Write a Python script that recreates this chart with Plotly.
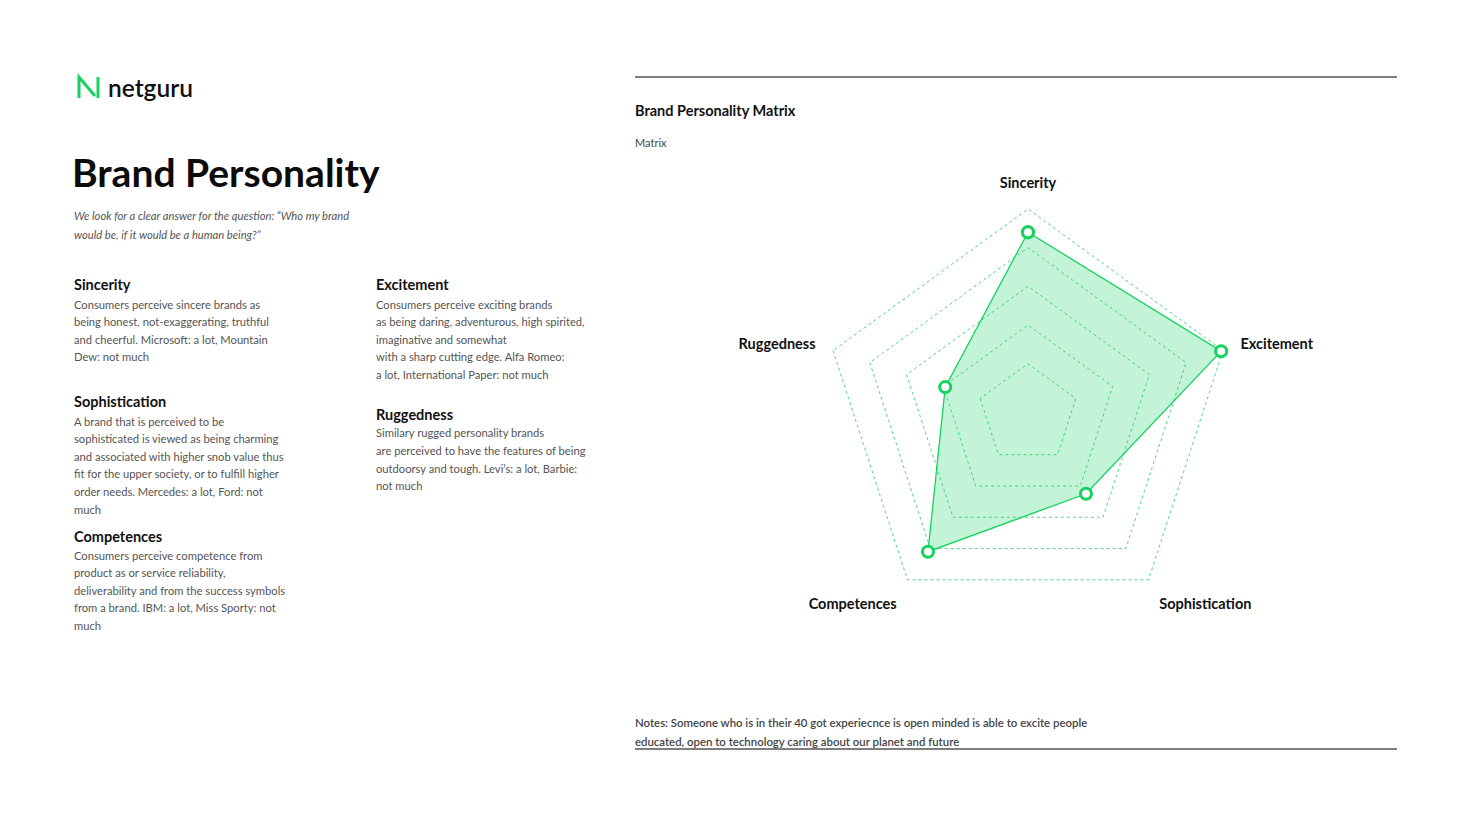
import plotly.graph_objects as go

W, H = 1470, 827
OFF = 8  # default page margin around the plot div
FW, FH = W - 2 * OFF, H - 2 * OFF
GREEN = "#14D35E"

# radar data
categories = ["Sincerity", "Excitement", "Sophistication", "Competences", "Ruggedness"]
scores = [4.4, 4.95, 2.25, 4.1, 1.95]
grid_levels = [1, 2, 3, 4, 5]

# page text
title = "Brand Personality"
subtitle_lines = [
    "We look for a clear answer for the question: \u201cWho my brand",
    "would be, if it would be a human being?\u201d",
]
sections = {
    "Sincerity": [
        "Consumers perceive sincere brands as",
        "being honest, not-exaggerating, truthful",
        "and cheerful. Microsoft: a lot, Mountain",
        "Dew: not much",
    ],
    "Sophistication": [
        "A brand that is perceived to be",
        "sophisticated is viewed as being charming",
        "and associated with higher snob value thus",
        "fit for the upper society, or to fulfill higher",
        "order needs. Mercedes: a lot, Ford: not",
        "much",
    ],
    "Competences": [
        "Consumers perceive competence from",
        "product as or service reliability,",
        "deliverability and from the success symbols",
        "from a brand. IBM: a lot, Miss Sporty: not",
        "much",
    ],
    "Excitement": [
        "Consumers perceive exciting brands",
        "as being daring, adventurous, high spirited,",
        "imaginative and somewhat",
        "with a sharp cutting edge. Alfa Romeo:",
        "a lot, International Paper: not much",
    ],
    "Ruggedness": [
        "Similary rugged personality brands",
        "are perceived to have the features of being",
        "outdoorsy and tough. Levi\u2019s: a lot, Barbie:",
        "not much",
    ],
}
# (x, y of heading) in page pixels
section_pos = {
    "Sincerity": (74, 285),
    "Sophistication": (74, 402),
    "Competences": (74, 536),
    "Excitement": (376, 285),
    "Ruggedness": (376, 414),
}
notes_lines = [
    "Notes: Someone who is in their 40 got experiecnce is open minded is able to excite people",
    "educated, open to technology caring about our planet and future",
]


def px(x):
    return (x - OFF) / FW


def py(y):
    return 1 - (y - OFF) / FH


FONT = "Lato"
annotations = []


def text(x, y, s, size, color="#111", weight=400, style="normal"):
    annotations.append(dict(
        x=px(x), y=py(y), xref="paper", yref="paper",
        xanchor="left", yanchor="middle", showarrow=False, text=s,
        borderpad=0, borderwidth=0,
        font=dict(family=FONT, size=size, color=color, weight=weight, style=style),
    ))


text(108, 87, "netguru", 24.5, "#111", 600)
text(72, 172, title, 39, "#0b0b0b", 700)
for i, line in enumerate(subtitle_lines):
    text(74, 215 + i * 19, line, 11.2, "#555", 400, "italic")
for name, lines in sections.items():
    x0, y0 = section_pos[name]
    text(x0, y0, name, 14.5, "#111", 700)
    for i, line in enumerate(lines):
        text(x0, y0 + 19 + i * 17.6, line, 11.2, "#555")
text(635, 110, "Brand Personality Matrix", 14.5, "#111", 700)
text(635, 142, "Matrix", 11, "#444")
for i, line in enumerate(notes_lines):
    text(635, 722 + i * 19.5, line, 11.4, "#444", 600)

shapes = [
    dict(type="line", xref="paper", yref="paper", x0=px(635), x1=px(1397),
         y0=py(77), y1=py(77), line=dict(color="#555", width=1.5)),
    dict(type="line", xref="paper", yref="paper", x0=px(635), x1=px(1397),
         y0=py(749), y1=py(749), line=dict(color="#555", width=1.5)),
    # logo mark
    dict(type="path", xref="paper", yref="paper",
         path=f"M {px(79)},{py(98)} L {px(79)},{py(77)} L {px(95)},{py(96)} "
              f"M {px(98)},{py(77)} L {px(98)},{py(98)}",
         line=dict(color=GREEN, width=3)),
]

fig = go.Figure()
fig.add_trace(go.Scatterpolar(
    r=scores + scores[:1],
    theta=categories + categories[:1],
    mode="lines+markers",
    fill="toself",
    fillcolor="rgba(20,211,94,0.25)",
    line=dict(color=GREEN, width=1.3),
    marker=dict(size=11, color="white", line=dict(color=GREEN, width=3)),
    hoverinfo="r+theta",
    showlegend=False,
))

r_min, r_max = -0.3, 5.05
unit = 205 / (5 - r_min)
cx, cy, R = 1028, 414, unit * (r_max - r_min)
fig.update_layout(
    width=FW, height=FH,
    margin=dict(l=0, r=0, t=0, b=0),
    paper_bgcolor="white",
    plot_bgcolor="white",
    annotations=annotations,
    shapes=shapes,
    polar=dict(
        domain=dict(x=[px(cx - R), px(cx + R)], y=[py(cy + R), py(cy - R)]),
        bgcolor="rgba(0,0,0,0)",
        gridshape="linear",
        radialaxis=dict(
            range=[r_min, r_max],
            tickvals=grid_levels,
            showticklabels=False,
            ticks="",
            showline=False,
            gridcolor="rgba(20,200,90,0.75)",
            griddash="dot",
            gridwidth=1.2,
        ),
        angularaxis=dict(
            rotation=90,
            direction="clockwise",
            showgrid=False,
            showline=False,
            ticks="outside",
            ticklen=13,
            tickcolor="rgba(0,0,0,0)",
            tickfont=dict(family=FONT, size=14.5, color="#111", weight=700),
        ),
    ),
)

fig.write_html("out.html")
